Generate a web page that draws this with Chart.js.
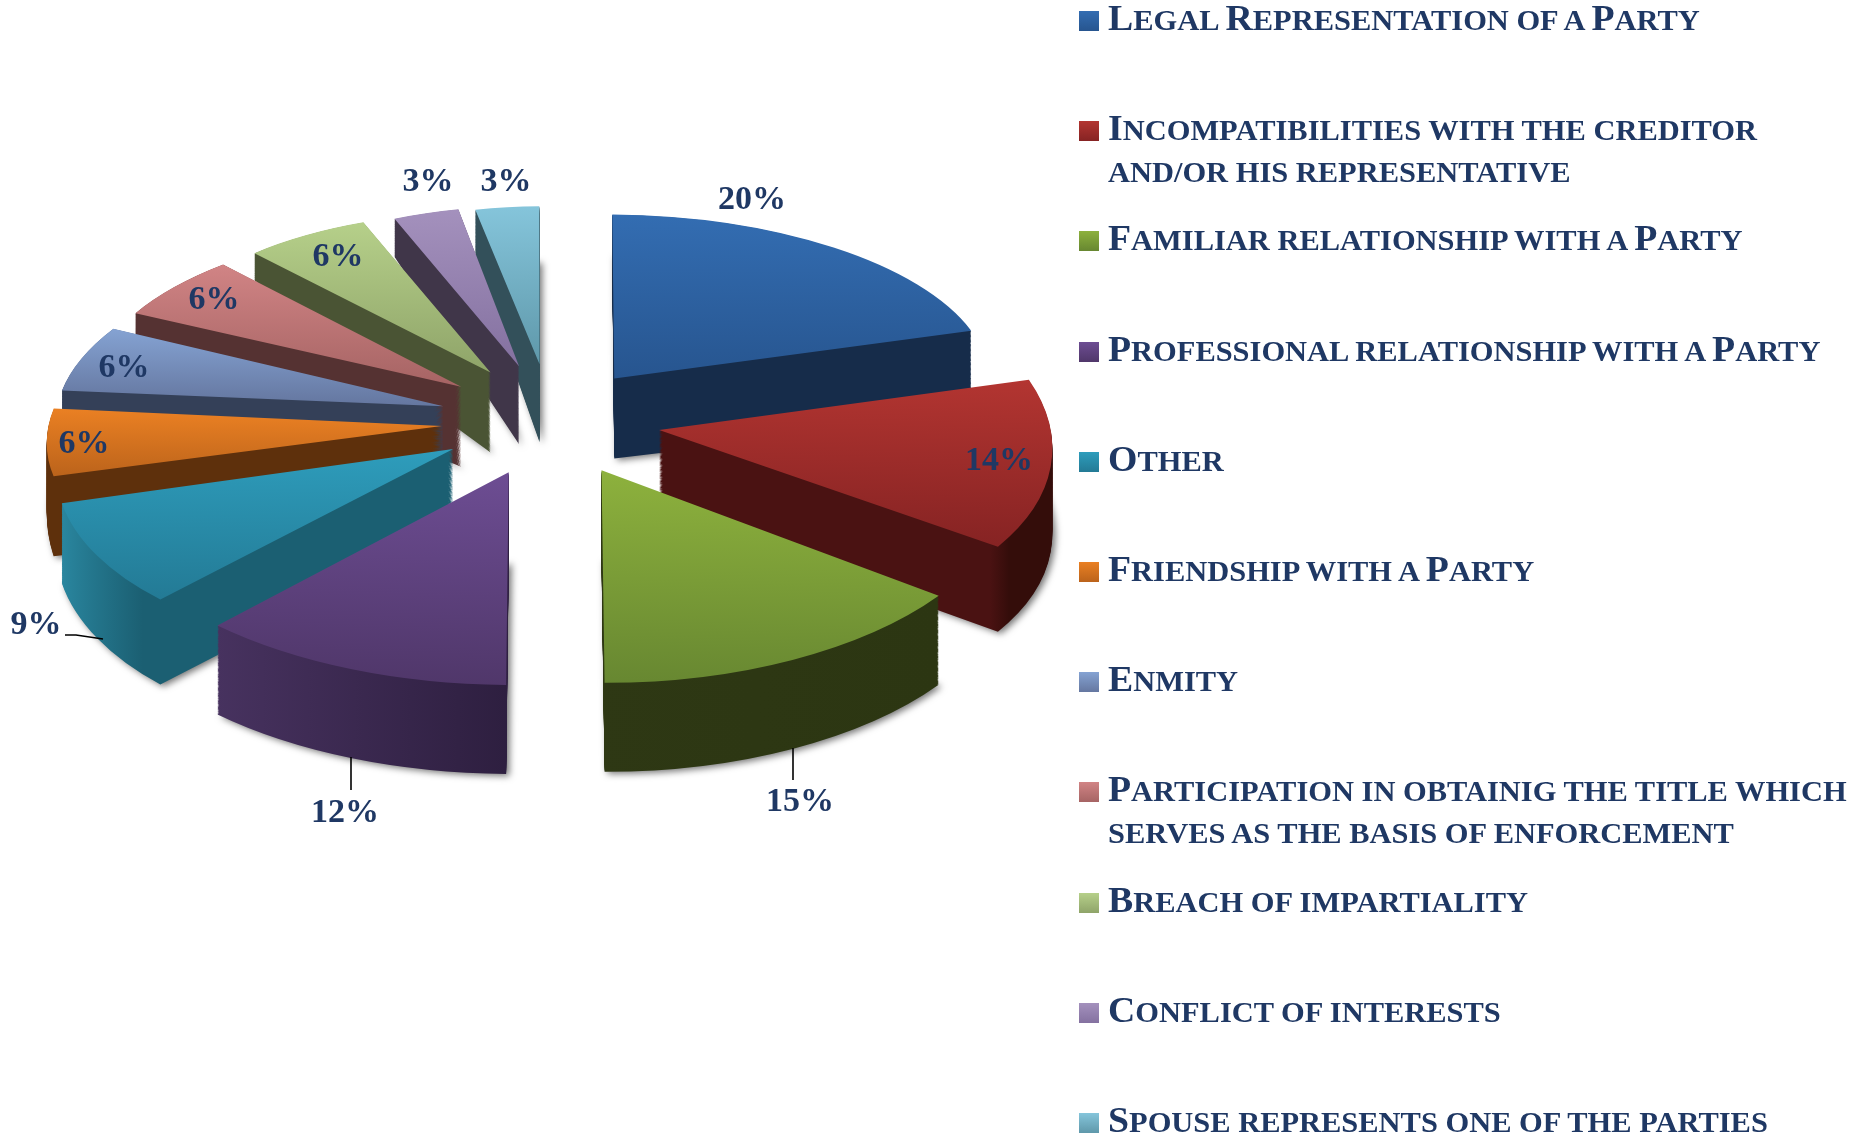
<!DOCTYPE html>
<html><head><meta charset="utf-8">
<style>
html,body{margin:0;padding:0;background:#fff;overflow:hidden}
#wrap{position:relative;width:1868px;height:1135px}
#chart{position:absolute;left:0;top:0}
.lg-box{position:absolute;width:20px;height:20px}
.lg-line{position:absolute;left:1108px;white-space:nowrap;font-family:"Liberation Serif",serif;font-weight:bold;color:#1F3864;line-height:60px;height:60px;transform-origin:0 50%;transform:scaleX(var(--sx))}
.lg-line .cap{font-size:36px}
.lg-line .low{font-size:29px;text-transform:uppercase}
</style>
</head><body>
<div id="wrap"><canvas id="chart" width="1868" height="1135"></canvas><div id="legend"></div></div>
<script src="https://cdn.jsdelivr.net/npm/chart.js@4"></script>
<script>
// ---- data ----
const categories = [
  "Legal Representation of a Party",
  "Incompatibilities with the creditor\nand/or his representative",
  "Familiar relationship with a Party",
  "Professional relationship with a Party",
  "Other",
  "Friendship with a Party",
  "Enmity",
  "Participation in obtainig the title which\nserves as the basis of enforcement",
  "Breach of impartiality",
  "Conflict of interests",
  "Spouse represents one of the parties"
];
const shares = [20, 14, 15, 12, 9, 6, 6, 6, 6, 3, 3];

// ---- colours ----
const topLight = ["#336DB2","#B33531","#8DB13D","#6D4D93","#2E9DBC","#EA8023","#85A3D3","#D18485","#B6D08A","#A491BD","#85C5DB"];
const topDark  = ["#27558F","#862323","#678731","#50376A","#237A95","#BB631B","#6577A0","#A66464","#8FA469","#8471A0","#5F98AA"];
const wallLeft = ["#162C4A","#4A1212","#2E3814","#47325F","#2A87A0","#5E300C","#344058","#553232","#4A5434","#403649","#33505A"];
const wallRight= ["#162C4A","#340D0A","#2C3612","#2E1F40","#1B5F72","#5E300C","#344058","#553232","#4A5434","#403649","#33505A"];
const wallFrom = [0, .82, 0, 0, 0, 0, 0, 0, 0, 0, 0];
const wallTo   = [1, .87, 1, 1, .28, 1, 1, 1, 1, 1, 1];

// ---- 3D view of each slice (linear projection of the unit pie, px) ----
const viewA = [376,393,414,422,394,392,385,370,345,354,344];
const viewB = [2,13,-23,-29,-54,-50,-43,-21,0,-6,0];
const viewC = [3,12,14,16,9,6,5,4,4,-6,-4];
const viewD = [164,199,212,212,203,182,172,164,160,161,158];
const tipDepth   = [80,80,89,89,85,85,80,80,80,78,78];
const depthStart = [40,85,89,89,85,80,40,22,27,38,50];
const depthEnd   = [85,85,89,89,80,60,30,20,30,40,55];
const nudgeX = [0,0,-4,-6,-4,3,2,2,1,1,1];
const nudgeY = [5,5,5,2,0,1,2,1,1,1,1];
const pieCenter = {x:549, y:418};
const explodeX = 111, explodeY = 55;
const baseRadius = 200;
const nominalOffset = 4;

// ---- percent labels and leaders (layout) ----
const labelX = [752,999,800,345,36,84,124,214,338,428,506];
const labelY = [200,461,802,813,625,444,368,300,257,182,182];
const leaders = [
  [[793,748],[793,780]],
  [[351,757],[351,790]],
  [[65,635],[76,635],[103,639]]
];
const TEXT = "#1F3864";

const pie3d = {
  id:'pie3d',
  beforeDatasetDraw(chart, args){
    const ctx = chart.ctx;
    const arcs = chart.getDatasetMeta(args.index).data;
    const order = arcs.map((a,i)=>i).sort((p,q)=>{
      const mp=(arcs[p].startAngle+arcs[p].endAngle)/2, mq=(arcs[q].startAngle+arcs[q].endAngle)/2;
      return Math.sin(mp)-Math.sin(mq);
    });
    for(const i of order){
      const arc = arcs[i], o = arc.options;
      const s = arc.startAngle, e = arc.endAngle, m=(s+e)/2;
      const off = (o.offset||0)/4;
      // Chart.js grows an offset arc's radius by offset * (1 - sin(sweep))
      const Rt = arc.outerRadius+off*(1-Math.sin(Math.min(Math.PI,e-s)));
      const px = arc.x+Math.cos(m)*off, py = arc.y+Math.sin(m)*off;
      const tx = pieCenter.x+Math.cos(m)*explodeX+nudgeX[i], ty = pieCenter.y+Math.sin(m)*explodeY+nudgeY[i];
      // extents in pie space
      let x0=0,x1=0,y0=0,y1=0;
      for(let k=0;k<=24;k++){const a=s+(e-s)*k/24,cx=Math.cos(a),cy=Math.sin(a);
        x0=Math.min(x0,cx);x1=Math.max(x1,cx);y0=Math.min(y0,cy);y1=Math.max(y1,cy);}
      // bottom face: depth at rim differs from the tip's depth
      const ux1=Math.cos(s),uy1=Math.sin(s),ux2=Math.cos(e),uy2=Math.sin(e);
      const det=ux1*uy2-uy1*ux2;
      const r1=depthStart[i]-tipDepth[i], r2=depthEnd[i]-tipDepth[i];
      const dC=(r1*uy2-uy1*r2)/det, dD=(ux1*r2-ux2*r1)/det;
      const wall = ctx.createLinearGradient(px+x0*Rt,0,px+x1*Rt,0);
      wall.addColorStop(0,wallLeft[i]);
      if(wallFrom[i]>0) wall.addColorStop(wallFrom[i],wallLeft[i]);
      wall.addColorStop(wallTo[i],wallRight[i]);
      wall.addColorStop(1,wallRight[i]);
      const top = ctx.createLinearGradient(0,py+y0*Rt,0,py+y1*Rt);
      top.addColorStop(0,topLight[i]);
      top.addColorStop(1,topDark[i]);
      const paint=(t,fill,shadow)=>{
        ctx.save();
        if(shadow){ctx.shadowColor='rgba(0,0,0,.55)';ctx.shadowBlur=7;ctx.shadowOffsetX=3;ctx.shadowOffsetY=2;}
        ctx.transform(viewA[i]/Rt,(viewC[i]+dC*t)/Rt,viewB[i]/Rt,(viewD[i]+dD*t)/Rt,tx,ty+tipDepth[i]*t);
        ctx.translate(-px,-py);
        arc.options = Object.assign({},o,{backgroundColor:fill,borderWidth:0});
        arc.draw(ctx);
        arc.options = o;
        ctx.restore();
      };
      const steps=Math.ceil(tipDepth[i]/1.2);
      paint(1,wall,true);
      for(let k=steps-1;k>0;k--) paint(k/steps,wall,false);
      paint(0,top,false);
    }
    return false;
  },
  afterDraw(chart){
    const ctx=chart.ctx;
    ctx.save();
    ctx.strokeStyle='#000';ctx.lineWidth=1.6;
    for(const l of leaders){ctx.beginPath();l.forEach((p,i)=>i?ctx.lineTo(p[0],p[1]):ctx.moveTo(p[0],p[1]));ctx.stroke();}
    ctx.font='bold 34px "Liberation Serif"';ctx.fillStyle=TEXT;ctx.textAlign='center';ctx.textBaseline='middle';
    shares.forEach((v,i)=>ctx.fillText(v+'%',labelX[i],labelY[i]));
    ctx.restore();
  }
};

const chart = new Chart(document.getElementById('chart'),{
  type:'pie',
  data:{labels:categories,datasets:[{data:shares,backgroundColor:topLight,borderWidth:0,offset:nominalOffset,radius:baseRadius}]},
  options:{responsive:false,animation:false,
    radius:baseRadius,
    layout:{padding:{left:0,top:0,right:1868-2*pieCenter.x,bottom:1135-2*pieCenter.y}},
    plugins:{legend:{display:false},tooltip:{enabled:false}}},
  plugins:[pie3d]
});

// ---- legend ----
const legend=document.getElementById('legend');
const firstBaseline=31, pitch=110.2, lineGap=44, textScale=1.05;
function styled(line){
  const d=document.createElement('div');d.className='lg-line';d.style.setProperty('--sx',textScale);
  for(const m of line.match(/[A-Z]|[^A-Z]+/g)){
    const sp=document.createElement('span');sp.className=/^[A-Z]$/.test(m)?'cap':'low';sp.textContent=m;d.appendChild(sp);
  }
  return d;
}
categories.forEach((c,i)=>{
  const base=firstBaseline+pitch*i;
  const b=document.createElement('div');b.className='lg-box';
  b.style.left='1079px';b.style.top=(base-20)+'px';
  b.style.background=`linear-gradient(${topLight[i]},${topDark[i]})`;
  legend.appendChild(b);
  c.split('\n').forEach((ln,j)=>{
    const d=styled(ln);d.style.top=(base+j*lineGap-43)+'px';legend.appendChild(d);
  });
});
</script>
</body></html>
